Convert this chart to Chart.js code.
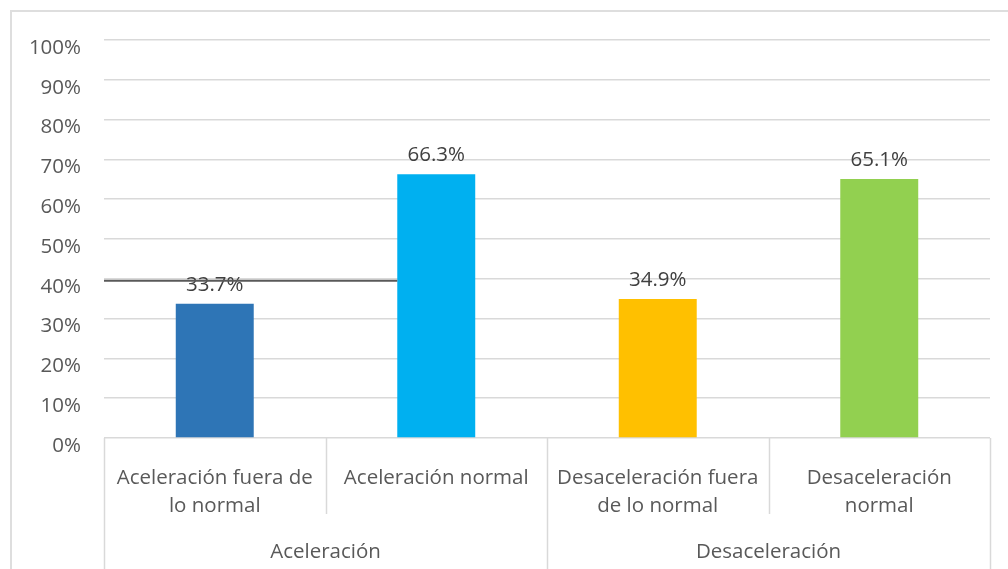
<!DOCTYPE html>
<html>
<head>
<meta charset="utf-8">
<script src="https://cdn.jsdelivr.net/npm/chart.js@4"></script>
<style>
  html, body { margin: 0; padding: 0; background: #fff; overflow: hidden; }
  .frame { position: absolute; left: 10px; top: 10px; width: 1100px; height: 700px; border: 2px solid #dedede; box-sizing: border-box; }
  canvas { position: absolute; left: 0; top: 0; }
</style>
</head>
<body>
<div class="frame"></div>
<canvas id="chart" width="1008" height="600"></canvas>
<script>
// --- datos ---
const categorias = [
  ['Aceleración fuera de', 'lo normal'],
  ['Aceleración normal'],
  ['Desaceleración fuera', 'de lo normal'],
  ['Desaceleración', 'normal']
];
const grupos = ['Aceleración', 'Desaceleración'];
const valores = [33.7, 66.3, 34.9, 65.1];
const colores = ['#2E75B6', '#00B0F0', '#FFC000', '#92D050'];
const marcasY = [0, 10, 20, 30, 40, 50, 60, 70, 80, 90, 100];
const lineaRef = 40;

const FONT = '"Open Sans", sans-serif';
const TAM = 20.5;
const GRIS = '#d9d9d9';

// etiquetas de valor encima de cada barra
const etiquetas = {
  id: 'etiquetas',
  afterDatasetsDraw(chart) {
    const ctx = chart.ctx;
    const meta = chart.getDatasetMeta(0);
    ctx.save();
    ctx.font = TAM + 'px ' + FONT;
    ctx.fillStyle = '#404040';
    ctx.textAlign = 'center';
    ctx.textBaseline = 'middle';
    meta.data.forEach((bar, i) => {
      ctx.fillText(valores[i].toFixed(1) + '%', bar.x, bar.y - 19);
    });
    ctx.restore();
  }
};

// línea oscura a 40% hasta la segunda barra
const lineaGris = {
  id: 'lineaGris',
  afterDraw(chart) {
    const ctx = chart.ctx;
    const y = chart.scales.y.getPixelForValue(lineaRef) + 2;
    const bar = chart.getDatasetMeta(0).data[1];
    ctx.save();
    ctx.strokeStyle = '#595959';
    ctx.lineWidth = 2;
    ctx.beginPath();
    ctx.moveTo(chart.chartArea.left, y);
    ctx.lineTo(bar.x - bar.width / 2, y);
    ctx.stroke();
    ctx.restore();
  }
};

// separadores del eje de categorías (dos niveles)
const separadores = {
  id: 'separadores',
  afterDraw(chart) {
    const ctx = chart.ctx;
    const x = chart.scales.x;
    const paso = (x.right - x.left) / categorias.length;
    ctx.save();
    ctx.strokeStyle = GRIS;
    ctx.lineWidth = 1.5;
    for (let i = 0; i <= categorias.length; i++) {
      const px = Math.round(x.left + i * paso) + 0.5;
      const fin = (i % 2 === 0) ? chart.height : x.top + 76;
      ctx.beginPath();
      ctx.moveTo(px, x.top);
      ctx.lineTo(px, fin);
      ctx.stroke();
    }
    ctx.restore();
  }
};

new Chart(document.getElementById('chart'), {
  type: 'bar',
  data: {
    labels: categorias,
    datasets: [{
      data: valores,
      backgroundColor: colores,
      barPercentage: 0.352,
      categoryPercentage: 1
    }]
  },
  options: {
    responsive: false,
    animation: false,
    layout: { padding: { top: 40, right: 18, left: 0, bottom: 0 } },
    plugins: { legend: { display: false }, tooltip: { enabled: false } },
    scales: {
      y: {
        min: 0, max: 100,
        afterFit: s => { s.width = 104; },
        afterBuildTicks: s => { s.ticks = marcasY.map(v => ({ value: v })); },
        ticks: {
          callback: v => v + '%',
          color: '#595959',
          font: { family: FONT, size: TAM },
          padding: 23,
          labelOffset: 8
        },
        grid: { color: GRIS, lineWidth: 1.5, drawTicks: false },
        border: { display: false }
      },
      x: {
        afterFit: s => { s.height = 90; },
        ticks: {
          color: '#595959',
          font: { family: FONT, size: TAM, lineHeight: 1.37 },
          padding: 18,
          maxRotation: 0,
          autoSkip: false
        },
        grid: { display: false },
        border: { display: false }
      },
      x2: {
        type: 'category',
        position: 'bottom',
        labels: grupos,
        afterFit: s => { s.height = 72; },
        ticks: {
          color: '#595959',
          font: { family: FONT, size: TAM },
          padding: 4,
          maxRotation: 0
        },
        grid: { display: false },
        border: { display: false }
      }
    }
  },
  plugins: [etiquetas, lineaGris, separadores]
});
</script>
</body>
</html>
